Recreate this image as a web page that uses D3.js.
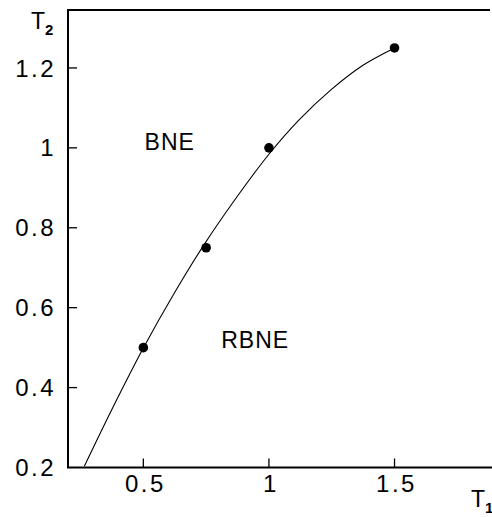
<!DOCTYPE html>
<html>
<head>
<meta charset="utf-8">
<script src="https://cdn.jsdelivr.net/npm/d3@7"></script>
<style>
    body { margin: 0; background: #fff; }
    svg text { font-family: "Liberation Sans", Arial, sans-serif; fill: #000; }
</style>
</head>
<body>
<div id="chart"></div>
<script>
    'use strict';

    // equilibrium boundary (T1, T2)
    var curveT1 = [0.265, 0.38, 0.5, 0.62, 0.74, 0.87, 1.0, 1.12, 1.25, 1.37, 1.5];
    var curveT2 = [0.203, 0.352, 0.499, 0.633, 0.756, 0.875, 0.984, 1.07, 1.147, 1.205, 1.25];

    // marked points
    var pointT1 = [0.5, 0.75, 1, 1.5];
    var pointT2 = [0.5, 0.75, 1, 1.25];

    var xTicks = [0.5, 1, 1.5];
    var yTicks = [0.2, 0.4, 0.6, 0.8, 1, 1.2];

    var regionLabels = [
        { text: 'BNE', t1: 0.505, t2: 1.016 },
        { text: 'RBNE', t1: 0.81, t2: 0.52 }
    ];

    var stage = { width: 492, height: 517 };
    var plot = { left: 68, top: 10, right: 495, bottom: 467.5 };

    var x = d3.scaleLinear().domain([0.2, 1.9]).range([plot.left, plot.right]);
    var y = d3.scaleLinear().domain([0.2, 1.345]).range([plot.bottom, plot.top]);

    var svg = d3.select('#chart')
        .append('svg')
        .attr('width', stage.width)
        .attr('height', stage.height);

    svg.append('defs').append('clipPath')
        .attr('id', 'plot-clip')
        .append('rect')
        .attr('x', plot.left)
        .attr('y', plot.top)
        .attr('width', plot.right - plot.left)
        .attr('height', plot.bottom - plot.top);

    // frame: left, top, bottom
    svg.append('path')
        .attr('d', 'M' + 490 + ',' + plot.top + 'H' + plot.left + 'V' + plot.bottom + 'H' + stage.width)
        .attr('fill', 'none')
        .attr('stroke', '#000')
        .attr('stroke-width', 2);

    // ticks point inward
    svg.append('g')
        .selectAll('line').data(yTicks.slice(1)).enter()
        .append('line')
        .attr('x1', plot.left)
        .attr('x2', plot.left + 9)
        .attr('y1', function(d) { return y(d); })
        .attr('y2', function(d) { return y(d); })
        .attr('stroke', '#000')
        .attr('stroke-width', 1.3);

    svg.append('g')
        .selectAll('line').data(xTicks).enter()
        .append('line')
        .attr('x1', function(d) { return x(d); })
        .attr('x2', function(d) { return x(d); })
        .attr('y1', plot.bottom)
        .attr('y2', plot.bottom - 9)
        .attr('stroke', '#000')
        .attr('stroke-width', 1.3);

    svg.append('g')
        .selectAll('text').data(yTicks).enter()
        .append('text')
        .attr('x', 56)
        .attr('y', function(d) { return y(d); })
        .attr('dy', '0.36em')
        .attr('text-anchor', 'end')
        .attr('font-size', 24)
        .attr('letter-spacing', 2.5)
        .text(function(d) { return d3.format('~g')(d); });

    svg.append('g')
        .selectAll('text').data(xTicks).enter()
        .append('text')
        .attr('x', function(d) { return x(d) + 2; })
        .attr('y', 492)
        .attr('text-anchor', 'middle')
        .attr('font-size', 24)
        .attr('letter-spacing', 2.5)
        .text(function(d) { return d3.format('~g')(d); });

    // axis names with subscripts
    var t2 = svg.append('text').attr('x', 31).attr('y', 29).attr('font-size', 23);
    t2.append('tspan').text('T');
    t2.append('tspan').attr('font-size', 15).attr('font-weight', 'bold').attr('dy', 6).text('2');

    var t1 = svg.append('text').attr('x', 471).attr('y', 507).attr('font-size', 23);
    t1.append('tspan').text('T');
    t1.append('tspan').attr('font-size', 15).attr('font-weight', 'bold').attr('dy', 6).text('1');

    var chart = svg.append('g').attr('clip-path', 'url(#plot-clip)');

    var line = d3.line()
        .x(function(d) { return x(d[0]); })
        .y(function(d) { return y(d[1]); })
        .curve(d3.curveCatmullRom);

    chart.append('path')
        .datum(d3.zip(curveT1, curveT2))
        .attr('d', line)
        .attr('fill', 'none')
        .attr('stroke', '#000')
        .attr('stroke-width', 1.1);

    chart.append('g')
        .selectAll('circle').data(d3.zip(pointT1, pointT2)).enter()
        .append('circle')
        .attr('cx', function(d) { return x(d[0]); })
        .attr('cy', function(d) { return y(d[1]); })
        .attr('r', 4.8)
        .attr('fill', '#000');

    svg.append('g')
        .selectAll('text').data(regionLabels).enter()
        .append('text')
        .attr('x', function(d) { return x(d.t1); })
        .attr('y', function(d) { return y(d.t2); })
        .attr('dy', '0.36em')
        .attr('font-size', 23)
        .attr('letter-spacing', 1)
        .text(function(d) { return d.text; });
</script>
</body>
</html>
